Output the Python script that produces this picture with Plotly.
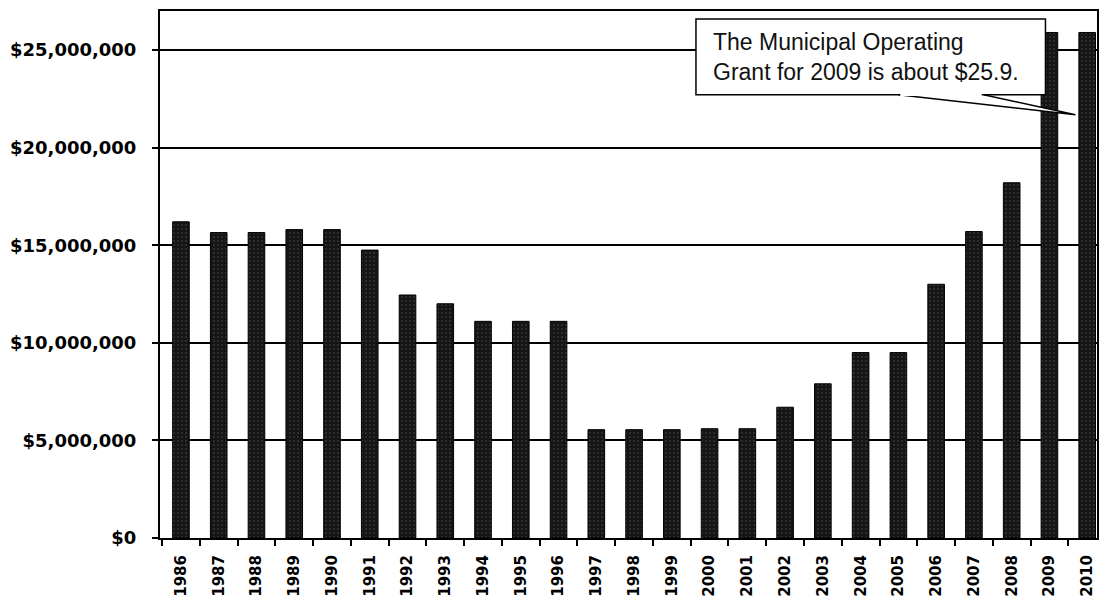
import plotly.graph_objects as go

# Municipal Operating Grant by year (dollars)
years = ["1986", "1987", "1988", "1989", "1990", "1991", "1992", "1993", "1994",
         "1995", "1996", "1997", "1998", "1999", "2000", "2001", "2002", "2003",
         "2004", "2005", "2006", "2007", "2008", "2009", "2010"]
grant_millions = [16.2, 15.65, 15.65, 15.8, 15.8, 14.75, 12.45, 12.0, 11.1,
                  11.1, 11.1, 5.55, 5.55, 5.55, 5.6, 5.6, 6.7, 7.9,
                  9.5, 9.5, 13.0, 15.7, 18.2, 25.9, 25.9]
grant = [v * 1_000_000 for v in grant_millions]

tick_values = [0, 5_000_000, 10_000_000, 15_000_000, 20_000_000, 25_000_000]
tick_labels = ["$0", "$5,000,000", "$10,000,000", "$15,000,000", "$20,000,000", "$25,000,000"]

callout_text = "The Municipal Operating<br>Grant for 2009 is about $25.9."

fig = go.Figure()
fig.add_trace(go.Bar(
    x=years,
    y=grant,
    marker=dict(
        color="#151515",
        line=dict(color="#000000", width=1),
        pattern=dict(shape=".", fgcolor="#8a8a8a", size=4, solidity=0.12),
    ),
    hoverinfo="skip",
))

fig.update_layout(
    width=1099,
    height=600,
    margin=dict(l=160, r=0, t=11, b=62),
    paper_bgcolor="white",
    plot_bgcolor="white",
    showlegend=False,
    bargap=0.56,
    xaxis=dict(
        type="category",
        range=[-0.555, 24.26],
        tickangle=-90,
        tickfont=dict(family="DejaVu Sans", size=15, color="#000000", weight="bold"),
        ticks="outside",
        tickson="boundaries",
        ticklen=6,
        tickwidth=2,
        tickcolor="#000000",
        showline=True,
        linecolor="#000000",
        linewidth=2,
        mirror=True,
        showgrid=False,
        ticklabelstandoff=9,
    ),
    yaxis=dict(
        range=[0, 27_000_000],
        tickvals=tick_values,
        ticktext=tick_labels,
        tickfont=dict(family="DejaVu Sans", size=18, color="#000000", weight="bold"),
        ticks="outside",
        ticklen=6,
        tickwidth=2,
        tickcolor="#000000",
        showline=True,
        linecolor="#000000",
        linewidth=2,
        mirror=True,
        showgrid=True,
        gridcolor="#000000",
        gridwidth=1.8,
        zeroline=False,
        ticklabelstandoff=12,
    ),
)

# Callout box with a wedge pointing toward the 2009/2010 bars
fig.add_shape(
    type="path",
    xref="paper", yref="paper",
    path="M 0.788 0.841 L 0.977 0.803 L 0.879 0.841",
    fillcolor="white",
    line=dict(color="#000000", width=1.5),
    layer="above",
)
fig.add_shape(
    type="rect",
    xref="paper", yref="paper",
    x0=0.572, x1=0.945, y0=0.841, y1=0.985,
    fillcolor="white",
    line=dict(color="#000000", width=1.5),
    layer="above",
)
fig.add_shape(
    type="line",
    xref="paper", yref="paper",
    x0=0.790, x1=0.877, y0=0.841, y1=0.841,
    line=dict(color="white", width=2.5),
    layer="above",
)
fig.add_annotation(
    xref="paper", yref="paper",
    x=0.588, y=0.913,
    xanchor="left", yanchor="middle",
    text=callout_text,
    showarrow=False,
    align="left",
    font=dict(family="Liberation Sans, Arial", size=23, color="#111111"),
)

fig.write_html("out.html")
